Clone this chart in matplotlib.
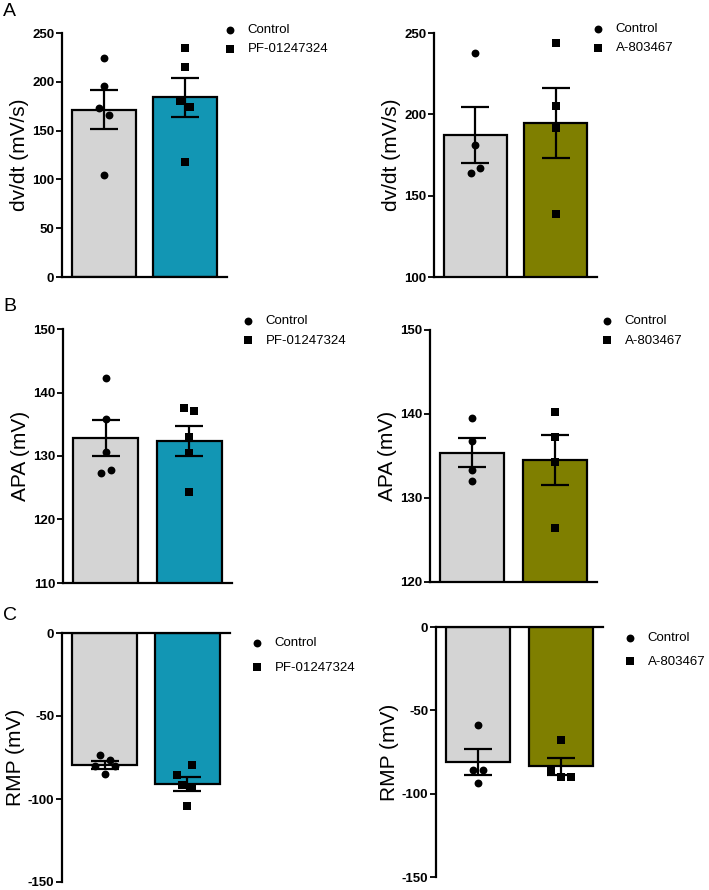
import matplotlib
matplotlib.use("Agg")
import matplotlib.pyplot as plt
import numpy as np

plt.rcParams['font.family'] = ['Liberation Sans', 'DejaVu Sans']

# ---------------- data ----------------
groups_pf = ["Control", "PF-01247324"]
groups_a = ["Control", "A-803467"]

# Panel A : dv/dt (mV/s)
dvdt_pf_ctrl_pts = [224, 196, 173, 166, 104]
dvdt_pf_trt_pts = [235, 215, 180, 174, 118]
dvdt_pf_mean = [171.5, 184.0]
dvdt_pf_sem = [20.0, 20.0]

dvdt_a_ctrl_pts = [238, 181, 164, 167]
dvdt_a_trt_pts = [243.8, 205.2, 191.8, 138.6]
dvdt_a_mean = [187.5, 194.8]
dvdt_a_sem = [17.2, 21.5]

# Panel B : APA (mV)
apa_pf_ctrl_pts = [142.3, 135.9, 130.7, 127.8, 127.3]
apa_pf_trt_pts = [137.5, 137.1, 133.0, 130.4, 124.3]
apa_pf_mean = [132.8, 132.4]
apa_pf_sem = [2.85, 2.4]

apa_a_ctrl_pts = [139.5, 136.8, 133.3, 132.0]
apa_a_trt_pts = [140.2, 137.3, 134.3, 126.4]
apa_a_mean = [135.4, 134.5]
apa_a_sem = [1.75, 2.95]

# Panel C : RMP (mV)
rmp_pf_ctrl_pts = [-73.3, -76.3, -80.3, -80.3, -84.7]
rmp_pf_trt_pts = [-79.7, -85.7, -91.8, -93.4, -104.4]
rmp_pf_mean = [-79.5, -91.0]
rmp_pf_sem = [2.3, 4.25]

rmp_a_ctrl_pts = [-58.8, -85.6, -85.6, -93.6]
rmp_a_trt_pts = [-67.6, -86.4, -90.2, -90.2]
rmp_a_mean = [-80.9, -83.6]
rmp_a_sem = [7.7, 5.3]

yticks_dvdt_pf = [0, 50, 100, 150, 200, 250]
yticks_dvdt_a = [100, 150, 200, 250]
yticks_apa_pf = [110, 120, 130, 140, 150]
yticks_apa_a = [120, 130, 140, 150]
yticks_rmp = [0, -50, -100, -150]

# ---------------- style / layout ----------------
W, H = 709, 890
CTRL_COLOR = "#d4d4d4"
PF_COLOR = "#1296b4"
A_COLOR = "#7f7f00"
BAR_W = 0.78
JIT = 0.06

fig = plt.figure(figsize=(W / 100, H / 100), dpi=100)


def px_axes(left, right, top, bottom):
    return fig.add_axes([left / W, 1 - bottom / H, (right - left) / W, (bottom - top) / H])


def panel(box, means, sems, ctrl_pts, trt_pts, ctrl_jit, trt_jit, color, labels,
          ylim, yticks, ylabel, leg_xy, leg_spacing, negative=False):
    ax = px_axes(*box)
    xs = [0, 1]
    ax.bar(xs, means, width=BAR_W, color=[CTRL_COLOR, color], edgecolor="black",
           linewidth=1.6, zorder=2)
    ax.errorbar(xs, means, yerr=sems, fmt="none", ecolor="black", elinewidth=1.6,
                capsize=10, capthick=1.6, zorder=3)
    h1 = ax.scatter(np.array(ctrl_jit) * JIT + 0, ctrl_pts, marker="o", s=32,
                    color="black", zorder=4, label=labels[0], linewidths=0)
    h2 = ax.scatter(np.array(trt_jit) * JIT + 1, trt_pts, marker="s", s=30,
                    color="black", zorder=4, label=labels[1], linewidths=0)
    ax.set_xlim(-0.515, 1.515)
    ax.set_ylim(*ylim)
    ax.set_yticks(yticks)
    ax.set_yticklabels([str(t) for t in yticks], fontweight="bold", fontsize=9.5)
    ax.set_xticks([])
    ax.tick_params(axis="y", direction="out", length=4, width=1.3, pad=1.5)
    for s in ["left", "right", "top", "bottom"]:
        ax.spines[s].set_linewidth(1.6)
    ax.spines["right"].set_visible(False)
    if negative:
        ax.spines["bottom"].set_visible(False)
    else:
        ax.spines["top"].set_visible(False)
    ax.set_ylabel(ylabel, fontsize=15, labelpad=2)
    ax.patch.set_alpha(0)
    mx, my = leg_xy
    fs = 9.5
    fpx = fs * 100 / 72
    ax.legend(handles=[h1, h2], loc="upper left",
              bbox_to_anchor=((mx - fpx / 2) / W, 1 - (my - 6) / H),
              bbox_transform=fig.transFigure, frameon=False, fontsize=fs,
              handlelength=1.0, handletextpad=0.85, borderpad=0,
              borderaxespad=0, labelspacing=leg_spacing, scatterpoints=1)
    return ax


panel((62, 227, 33, 277), dvdt_pf_mean, dvdt_pf_sem, dvdt_pf_ctrl_pts, dvdt_pf_trt_pts,
      [0, 0, -1, 1, 0], [0, 0, -1, 1, 0], PF_COLOR, groups_pf,
      (0, 250), yticks_dvdt_pf, "dv/dt (mV/s)", (230, 30), 0.5)
panel((434, 597, 33, 277), dvdt_a_mean, dvdt_a_sem, dvdt_a_ctrl_pts, dvdt_a_trt_pts,
      [0, 0, -1, 1], [0, 0, 0, 0], A_COLOR, groups_a,
      (100, 250), yticks_dvdt_a, "dv/dt (mV/s)", (598, 29), 0.5)
panel((63, 232, 329, 583), apa_pf_mean, apa_pf_sem, apa_pf_ctrl_pts, apa_pf_trt_pts,
      [0, 0, 0, 1, -1], [-1, 1, 0, 0, 0], PF_COLOR, groups_pf,
      (110, 150), yticks_apa_pf, "APA (mV)", (248, 321), 0.55)
panel((430, 597, 330, 582), apa_a_mean, apa_a_sem, apa_a_ctrl_pts, apa_a_trt_pts,
      [0, 0, 0, 0], [0, 0, 0, 0], A_COLOR, groups_a,
      (120, 150), yticks_apa_a, "APA (mV)", (607, 321), 0.55)
panel((62, 230, 633, 882), rmp_pf_mean, rmp_pf_sem, rmp_pf_ctrl_pts, rmp_pf_trt_pts,
      [-1, 1, -2, 2, 0], [1, -2, -1, 1, 0], PF_COLOR, groups_pf,
      (-150, 0), yticks_rmp, "RMP (mV)", (257, 643), 0.93, negative=True)
panel((436, 603, 627, 877), rmp_a_mean, rmp_a_sem, rmp_a_ctrl_pts, rmp_a_trt_pts,
      [0, -1, 1, 0], [0, -2, 0, 2], A_COLOR, groups_a,
      (-150, 0), yticks_rmp, "RMP (mV)", (630, 638), 0.85, negative=True)

for letter, (lx, ly) in zip(["A", "B", "C"], [(3, 12), (3, 307), (3, 615)]):
    fig.text(lx / W, 1 - ly / H, letter, fontsize=14, ha="left", va="center")

fig.savefig("out.png", dpi=100)
